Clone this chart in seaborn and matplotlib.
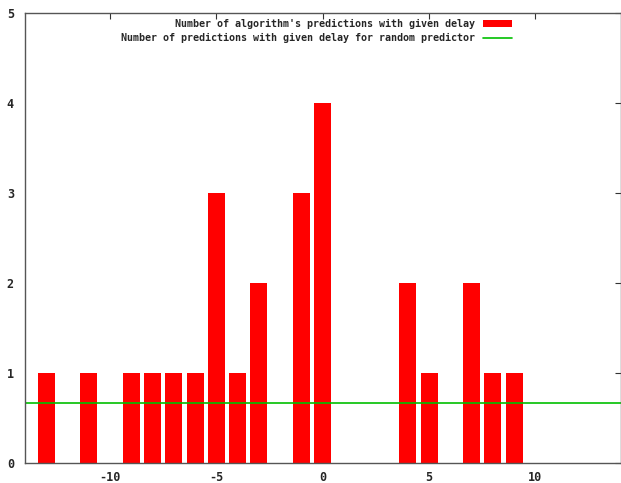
import matplotlib
matplotlib.use("Agg")
import matplotlib.pyplot as plt
import seaborn as sns
import pandas as pd
from matplotlib.patches import Patch
from matplotlib.lines import Line2D

delays = [-13, -11, -9, -8, -7, -6, -5, -4, -3, -1, 0, 4, 5, 7, 8, 9]
counts = [1, 1, 1, 1, 1, 1, 3, 1, 2, 3, 4, 2, 1, 2, 1, 1]
random_level = 0.667
xticks = [-10, -5, 0, 5, 10]
yticks = [0, 1, 2, 3, 4, 5]
label_bars = "Number of algorithm's predictions with given delay"
label_line = "Number of predictions with given delay for random predictor"

sns.set_style("white")
plt.rcParams['font.family'] = ['DejaVu Sans Mono']

fig = plt.figure(figsize=(6.21, 4.83), dpi=100)
ax = fig.add_axes([25/621, (483-462.7)/483, (620.5-25)/621, (462.7-13)/483])

df = pd.DataFrame({"delay": delays, "count": counts})
sns.barplot(data=df, x="delay", y="count", native_scale=True, width=0.8,
            color="#ff0000", saturation=1, edgecolor="none", ax=ax)
ax.axhline(random_level, color="#00c000", lw=1.2)

ax.set_xlim(-14, 14)
ax.set_ylim(0, 5)
ax.set_xticks(xticks)
ax.set_yticks(yticks)
ax.set_xticklabels([str(t) for t in xticks], fontsize=8.5, fontweight="bold")
ax.set_yticklabels([str(t) for t in yticks], fontsize=8.5, fontweight="bold")
ax.set_xlabel("")
ax.set_ylabel("")
ax.tick_params(direction="in", length=4, width=0.8, color="#333333",
               top=True, right=True)
ax.tick_params(axis="x", pad=6)
ax.tick_params(axis="y", pad=8)
for s in ax.spines.values():
    s.set_color("#555555")
    s.set_linewidth(1)

handles = [Patch(facecolor="#ff0000", edgecolor="none"),
           Line2D([], [], color="#00c000", lw=1.2)]
leg = ax.legend(handles, [label_bars, label_line], loc="upper right",
                bbox_to_anchor=(512/621, 1 - 19/483), bbox_transform=fig.transFigure,
                frameon=False, markerfirst=False, borderpad=0, borderaxespad=0,
                handlelength=2.9, handleheight=0.7, labelspacing=0.4,
                handletextpad=0.8, prop={"size": 7.2, "weight": "bold"})

fig.savefig("out.png", dpi=100)
